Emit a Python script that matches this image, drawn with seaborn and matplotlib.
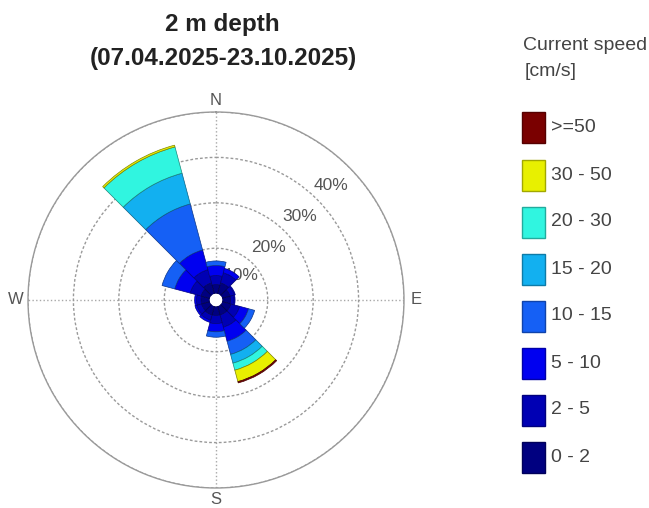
import numpy as np
import pandas as pd
import matplotlib
matplotlib.use('Agg')
import matplotlib.pyplot as plt
import seaborn as sns
from matplotlib.patches import Rectangle
from matplotlib.colors import to_rgb

# Direction sectors (degrees, clockwise from north) and speed classes
directions = [0, 30, 60, 90, 120, 150, 180, 210, 240, 270, 300, 330]
speed_classes = ['0 - 2', '2 - 5', '5 - 10', '10 - 15', '15 - 20', '20 - 30', '30 - 50', '>=50']
class_colors = ['#000080', '#0000b4', '#0000f0', '#1560f5', '#12b0f0', '#30f5e0', '#e8f000', '#7a0000']

# Frequency (%) per direction for each speed class
pct_0_2 = [2.0, 2.5, 1.8, 1.8, 2.0, 2.0, 2.0, 2.0, 1.9, 1.9, 2.0, 2.5]
pct_2_5 = [2.0, 2.3, 1.0, 0.8, 2.0, 2.8, 1.8, 1.2, 1.1, 1.0, 2.5, 3.0]
pct_5_10 = [2.2, 1.0, 0.2, 0.2, 2.0, 3.2, 1.8, 0.5, 0.4, 0.4, 3.5, 4.5]
pct_10_15 = [1.0, 0.0, 0.0, 0.0, 1.4, 3.0, 1.2, 0.0, 0.0, 0.0, 2.9, 10.5]
pct_15_20 = [0.0, 0.0, 0.0, 0.0, 0.0, 2.0, 0.0, 0.0, 0.0, 0.0, 0.0, 7.0]
pct_20_30 = [0.0, 0.0, 0.0, 0.0, 0.0, 1.6, 0.0, 0.0, 0.0, 0.0, 0.0, 6.0]
pct_30_50 = [0.0, 0.0, 0.0, 0.0, 0.0, 2.6, 0.0, 0.0, 0.0, 0.0, 0.0, 0.4]
pct_ge_50 = [0.0, 0.0, 0.0, 0.0, 0.0, 0.3, 0.0, 0.0, 0.0, 0.0, 0.0, 0.0]

ring_values = [10, 20, 30, 40]
ring_labels = ['10%', '20%', '30%', '40%']
compass_labels = ['N', 'E', 'S', 'W']

class_values = [pct_0_2, pct_2_5, pct_5_10, pct_10_15, pct_15_20, pct_20_30, pct_30_50, pct_ge_50]

# long-form table
rows = []
for cls, vals in zip(speed_classes, class_values):
    for d, v in zip(directions, vals):
        rows.append({'direction': d, 'speed': cls, 'pct': v})
df = pd.DataFrame(rows)


def darker(c, f=0.6):
    r, g, b = to_rgb(c)
    return (r * f, g * f, b * f)


sns.set_theme(style='white')
plt.rcParams['font.family'] = ['Liberation Sans', 'DejaVu Sans']

W, H = 649, 508
fig = plt.figure(figsize=(W / 100, H / 100), dpi=100)

# polar axes: centre at (216, 300) px, 40% ring at radius 188 px
cx, cy, R = 216, 300, 188
ax = fig.add_axes([(cx - R) / W, (H - cy - R) / H, 2 * R / W, 2 * R / H], projection='polar')
ax.set_theta_zero_location('N')
ax.set_theta_direction(-1)
ax.set_ylim(0, 40)
ax.set_rorigin(-1.4)
ax.set_axisbelow(True)

ax.set_yticks(ring_values)
ax.set_yticklabels([])
ax.yaxis.grid(True, color='#9a9a9a', linestyle=(0, (2, 1.5)), linewidth=1.0)
ax.set_xticks(np.radians([0, 90, 180, 270]))
ax.set_xticklabels([])
ax.xaxis.grid(True, color='#a8a8a8', linestyle=':', linewidth=1.0)
ax.spines['polar'].set_color('#9a9a9a')
ax.spines['polar'].set_linewidth(1.0)
ax.spines['inner'].set_color('none')

# stacked sectors
width = np.radians(30)
bottom = np.zeros(len(directions))
for cls, col in zip(speed_classes, class_colors):
    vals = df[df['speed'] == cls]['pct'].to_numpy()
    mask = vals > 0
    theta = np.radians(np.array(directions))[mask]
    ax.bar(theta, vals[mask], width=width, bottom=bottom[mask], color=col,
           edgecolor=darker(col, 0.55), linewidth=0.5, zorder=2)
    bottom += vals

# ring labels (partly hidden under the sectors)
label_r = [6.3, 14.8, 24.6, 34.3]
for r, lab in zip(label_r, ring_labels):
    ax.text(np.radians(45), r, lab, ha='center', va='center', fontsize=12.5,
            color='#555555', zorder=1)

# compass labels
for ang, lab in zip([0, 90, 180, 270], compass_labels):
    ax.text(np.radians(ang), 42.6, lab, ha='center', va='center', fontsize=12,
            color='#555555')

# title
fig.text(222 / W, 1 - 25 / H, '2 m depth', ha='center', va='center',
         fontsize=17.5, fontweight='bold', color='#222222')
fig.text(223 / W, 1 - 58 / H, '(07.04.2025-23.10.2025)', ha='center', va='center',
         fontsize=17.5, fontweight='bold', color='#222222')

# legend
fig.text(523 / W, 1 - 45 / H, 'Current speed', ha='left', va='center',
         fontsize=14, color='#444444')
fig.text(525 / W, 1 - 72 / H, '[cm/s]', ha='left', va='center',
         fontsize=14, color='#444444')
bw, bh = 23, 31
for i, (cls, col) in enumerate(zip(speed_classes[::-1], class_colors[::-1])):
    yc = 128 + i * 47
    fig.patches.append(Rectangle((522 / W, 1 - (yc + bh / 2) / H), bw / W, bh / H,
                                 transform=fig.transFigure, facecolor=col,
                                 edgecolor=darker(col, 0.7), linewidth=1.0))
    fig.text(551 / W, 1 - yc / H, cls, ha='left', va='center',
             fontsize=14, color='#444444')

fig.savefig('out.png', dpi=100, facecolor='white')
